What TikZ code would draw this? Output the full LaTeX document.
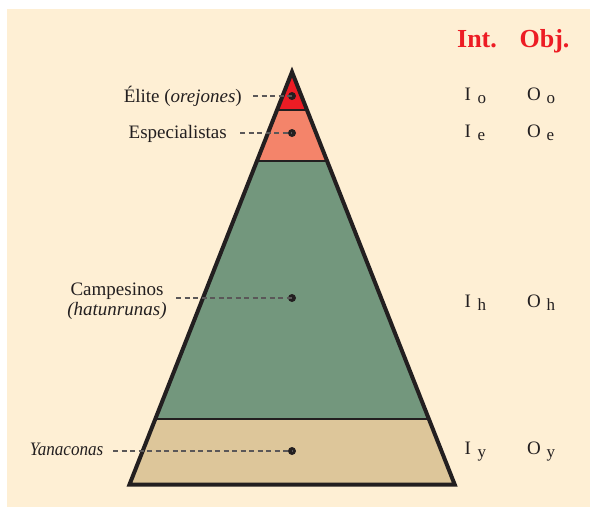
\documentclass[tikz,border=0pt]{standalone}
\usepackage{fontspec}
\setmainfont{Liberation Serif}
\definecolor{cream}{HTML}{FEEFD4}
\definecolor{ink}{HTML}{231F20}
\definecolor{headred}{HTML}{ED1C24}
\definecolor{elitecol}{HTML}{ED1C24}
\definecolor{speccol}{HTML}{F4846A}
\definecolor{campcol}{HTML}{73977D}
\definecolor{yanacol}{HTML}{DDC69A}
\begin{document}
\begin{tikzpicture}[x=1pt,y=-1pt,
  lbl/.style={inner sep=0pt,text=ink,font=\fontsize{19}{22}\selectfont},
  sub/.style={inner sep=0pt,text=ink,font=\fontsize{17}{20}\selectfont},
  head/.style={inner sep=0pt,text=headred,font=\fontsize{26}{30}\selectfont\bfseries},
  dot/.style={circle,fill=ink,inner sep=0pt,minimum size=8pt},
  leader/.style={draw=ink!75,line width=1.1pt,dash pattern=on 5pt off 3.5pt},
  divider/.style={draw=ink,line width=2pt}]
\useasboundingbox (0,0) rectangle (592,507);
\fill[white] (0,0) rectangle (592,507);
\fill[cream] (7,9) rectangle (590,507);

% pyramid corners
\coordinate (apex) at (292,72);
\coordinate (bl) at (129.5,484.5);
\coordinate (br) at (454.7,484.5);

% layers
\begin{scope}
  \clip (apex) -- (bl) -- (br) -- cycle;
  \fill[elitecol] (100,60) rectangle (480,110);
  \fill[speccol] (100,110) rectangle (480,161);
  \fill[campcol] (100,161) rectangle (480,419);
  \fill[yanacol] (100,419) rectangle (480,490);
  \draw[divider] (100,110) -- (480,110);
  \draw[divider] (100,161) -- (480,161);
  \draw[divider] (100,419) -- (480,419);
\end{scope}
\draw[ink,line width=4pt,line join=miter] (apex) -- (bl) -- (br) -- cycle;

% markers in each layer
\node[dot] (de) at (292,96) {};
\node[dot] (ds) at (292,133) {};
\node[dot] (dc) at (292,298) {};
\node[dot] (dy) at (292,451) {};

% labels on the left
\node[lbl,anchor=base east] (le) at (242,102) {Élite (\textit{orejones})};
\node[lbl,anchor=base east] (ls) at (227,138.5) {Especialistas};
\node[lbl,anchor=base] (lc1) at (117,295) {Campesinos};
\node[lbl,anchor=base] (lc2) at (117,315) {\textit{(hatunrunas)}};
\node[lbl,anchor=base east] (ly) at (103.5,455) {\scalebox{0.9}[1]{\textit{Yanaconas}}};

% leader line starts
\coordinate (se) at (253,96);
\coordinate (ss) at (240,133);
\coordinate (sc) at (176,298);
\coordinate (sy) at (113,451);
\draw[leader] (se) -- (de.center);
\draw[leader] (ss) -- (ds.center);
\draw[leader] (sc) -- (dc.center);
\draw[leader] (sy) -- (dy.center);

% column headings
\node[head,anchor=base] (hi) at (477,47.5) {Int.};
\node[head,anchor=base] (ho) at (544.5,47.5) {Obj.};

% symbols per layer
\node[lbl,anchor=base west] (io) at (464.5,100) {I};
\node[sub,anchor=base west] (iosub) at (477.5,103) {o};
\node[lbl,anchor=base west] (oo) at (527,100) {O};
\node[sub,anchor=base west] (oosub) at (546.5,103) {o};

\node[lbl,anchor=base west] (ie) at (464.5,137) {I};
\node[sub,anchor=base west] (iesub) at (477.5,140) {e};
\node[lbl,anchor=base west] (oe) at (527,137) {O};
\node[sub,anchor=base west] (oesub) at (546.5,140) {e};

\node[lbl,anchor=base west] (ih) at (464.5,307) {I};
\node[sub,anchor=base west] (ihsub) at (477.5,310) {h};
\node[lbl,anchor=base west] (oh) at (527,307) {O};
\node[sub,anchor=base west] (ohsub) at (546.5,310) {h};

\node[lbl,anchor=base west] (iy) at (464.5,454) {I};
\node[sub,anchor=base west] (iysub) at (477.5,457) {y};
\node[lbl,anchor=base west] (oy) at (527,454) {O};
\node[sub,anchor=base west] (oysub) at (546.5,457) {y};
\end{tikzpicture}
\end{document}
